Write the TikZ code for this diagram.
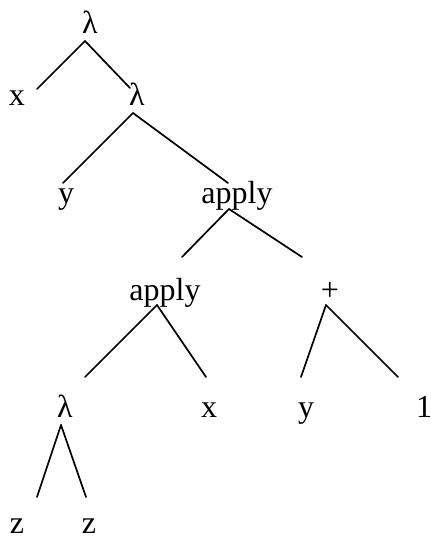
\documentclass[tikz,border=0pt]{standalone}
\usepackage{fontspec}
\setmainfont{Liberation Serif}
\begin{document}
\begin{tikzpicture}[x=1pt,y=-1pt,
  lab/.style={anchor=base,inner sep=0pt,font=\fontsize{32pt}{38pt}\selectfont},
  edge/.style={line width=1.7pt,line cap=round}]
\useasboundingbox (0,0) rectangle (431,539);
% labels
\node[lab] (r)  at (90,33) {λ};
\node[lab] (x1) at (17,105) {x};
\node[lab] (l2) at (137,105) {λ};
\node[lab] (y1) at (66,203) {y};
\node[lab] (a1) at (237,203) {apply};
\node[lab] (a2) at (165,300) {apply};
\node[lab] (p)  at (330,300) {+};
\node[lab] (l3) at (65,417) {λ};
\node[lab] (x2) at (209,417) {x};
\node[lab] (y2) at (306,417) {y};
\node[lab] (one) at (424,417) {1};
\node[lab] (z1) at (17,533) {z};
\node[lab] (z2) at (89,533) {z};
% connector ends
\coordinate (r-b) at (85,41);
\coordinate (x1-t) at (37,89);
\coordinate (l2-t) at (130,88);
\coordinate (l2-b) at (133,113);
\coordinate (y1-t) at (63,183);
\coordinate (a1-t) at (228,183);
\coordinate (a1-b) at (229,209);
\coordinate (a2-t) at (182,257);
\coordinate (p-t) at (302,257);
\coordinate (a2-b) at (157,305);
\coordinate (l3-t) at (85,377);
\coordinate (x2-t) at (206,377);
\coordinate (p-b) at (326,305);
\coordinate (y2-t) at (301,377);
\coordinate (one-t) at (398,377);
\coordinate (l3-b) at (61,425);
\coordinate (z1-t) at (37,497);
\coordinate (z2-t) at (86,497);
% edges
\draw[edge] (r-b) -- (x1-t);
\draw[edge] (r-b) -- (l2-t);
\draw[edge] (l2-b) -- (y1-t);
\draw[edge] (l2-b) -- (a1-t);
\draw[edge] (a1-b) -- (a2-t);
\draw[edge] (a1-b) -- (p-t);
\draw[edge] (a2-b) -- (l3-t);
\draw[edge] (a2-b) -- (x2-t);
\draw[edge] (p-b) -- (y2-t);
\draw[edge] (p-b) -- (one-t);
\draw[edge] (l3-b) -- (z1-t);
\draw[edge] (l3-b) -- (z2-t);
\end{tikzpicture}
\end{document}
